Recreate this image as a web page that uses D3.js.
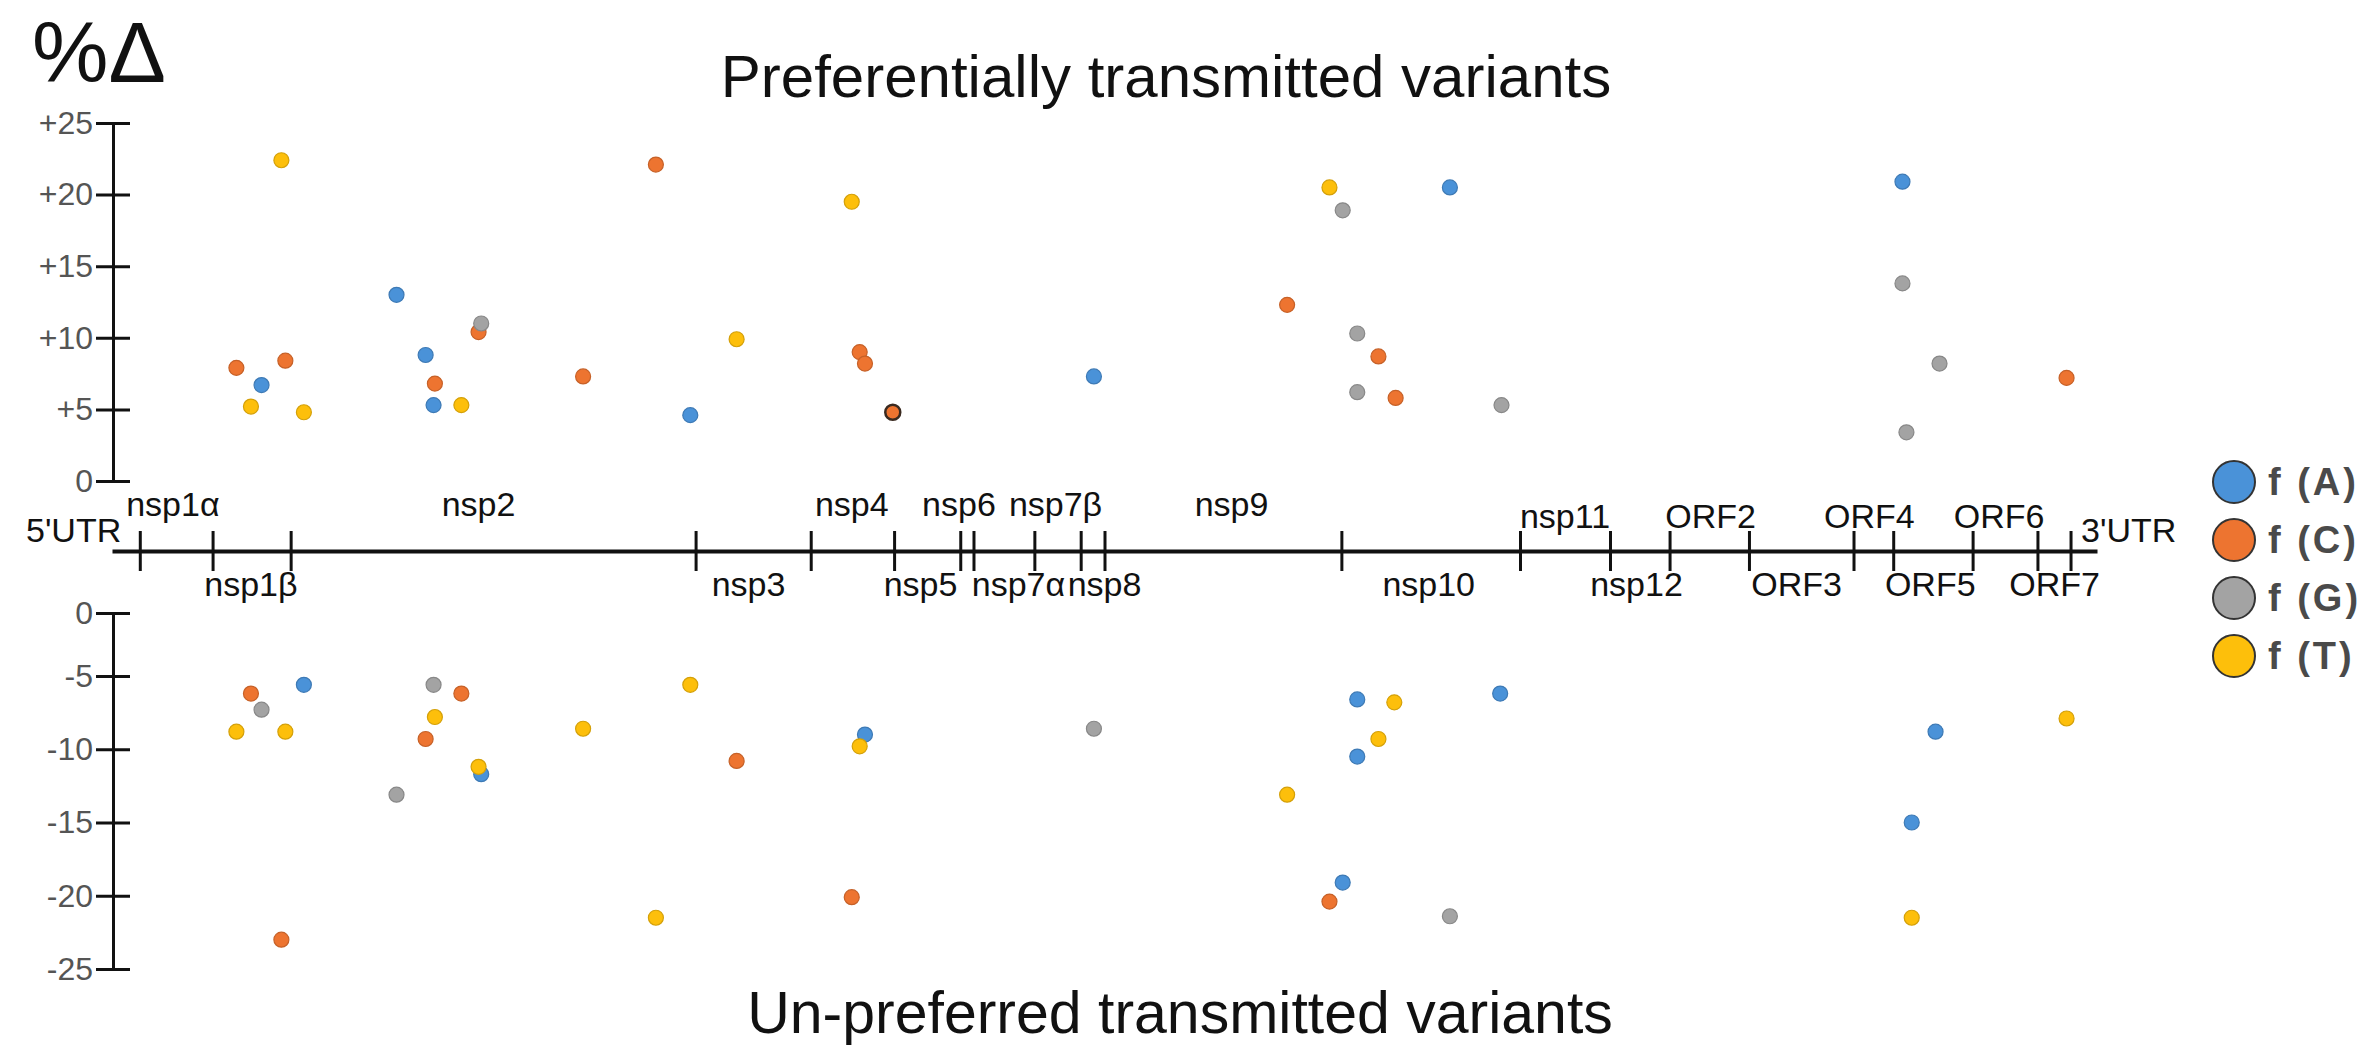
<!DOCTYPE html>
<html lang="en">
    <head>
        <meta charset="utf-8">
        <title>Preferentially transmitted variants</title>
        <script src="https://cdnjs.cloudflare.com/ajax/libs/d3/7.8.5/d3.min.js" charset="utf-8"></script>
        <style>
        body {
          margin: 0;
          background: #fff;
          font-family: 'Liberation Sans', Arial, sans-serif;
        }
        svg {
          display: block;
        }
        </style>
    </head>
    <body>
        <svg></svg>
        <script type="text/javascript">
            // genome map: segment names, their boundaries and where each name sits (genome units)
            var segments = ["5'UTR", "nsp1α", "nsp1β", "nsp2", "nsp3", "nsp4", "nsp5", "nsp6",
                            "nsp7α", "nsp7β", "nsp8", "nsp9", "nsp10", "nsp11", "nsp12",
                            "ORF2", "ORF3", "ORF4", "ORF5", "ORF6", "ORF7", "3'UTR"];
            var boundaries = [0, 0.21, 0.76, 1.35, 4.41, 5.28, 5.91, 6.41, 6.51, 6.97, 7.32, 7.50,
                              9.29, 10.64, 11.32, 11.77, 12.37, 13.16, 13.46, 14.06, 14.55, 14.80, 15];
            var labelAt = [0.07, 0.46, 1.05, 2.77, 4.81, 5.59, 6.11, 6.40, 6.85, 7.13, 7.50, 8.46,
                           9.95, 10.98, 11.52, 12.08, 12.73, 13.28, 13.74, 14.26, 14.68, 14.88];

            // tick values of the two %Δ axes
            var prefTicks = [0, 5, 10, 15, 20, 25];
            var unprefTicks = [0, -5, -10, -15, -20, -25];

            // [genome position, %Δ] for each base, preferentially transmitted
            var prefA = [[1.13, 6.7], [2.15, 13.0], [2.37, 8.8], [2.43, 5.3], [4.37, 4.6],
                         [7.42, 7.3], [10.11, 20.5], [13.53, 20.9]];
            var prefC = [[0.94, 7.9], [1.31, 8.4], [2.44, 6.8], [2.77, 10.4], [3.56, 7.3],
                         [4.11, 22.1], [5.65, 9.0], [5.69, 8.2], [5.90, 4.8], [8.88, 12.3],
                         [9.57, 8.7], [9.70, 5.8], [14.77, 7.2]];
            var prefG = [[2.79, 11.0], [9.30, 18.9], [9.41, 10.3], [9.41, 6.2], [10.50, 5.3],
                         [13.53, 13.8], [13.81, 8.2], [13.56, 3.4]];
            var prefT = [[1.28, 22.4], [1.05, 5.2], [1.45, 4.8], [2.64, 5.3], [4.72, 9.9],
                         [5.59, 19.5], [9.20, 20.5]];

            // un-preferred transmitted
            var unprefA = [[1.45, -5.6], [2.79, -11.7], [5.69, -9.0], [9.41, -6.6], [9.41, -10.5],
                           [9.30, -19.1], [10.49, -6.2], [13.78, -8.8], [13.60, -15.0]];
            var unprefC = [[1.05, -6.2], [1.28, -23.0], [2.64, -6.2], [2.37, -9.3], [4.72, -10.8],
                           [5.59, -20.1], [9.20, -20.4]];
            var unprefG = [[1.13, -7.3], [2.43, -5.6], [2.15, -13.1], [7.42, -8.6], [10.11, -21.4]];
            var unprefT = [[0.94, -8.8], [1.31, -8.8], [2.44, -7.8], [2.77, -11.2], [3.56, -8.6],
                           [4.37, -5.6], [4.11, -21.5], [5.65, -9.8], [9.69, -6.8], [9.57, -9.3],
                           [8.88, -13.1], [14.77, -7.9], [13.60, -21.5]];

            var bases = ["A", "C", "G", "T"];
            var colors = ["#4a92d8", "#ed7430", "#a3a3a3", "#fdbf0b"];

            var width = 2372;
            var height = 1047;
            var font = "'Liberation Sans', Arial, sans-serif";

            var svg = d3.select("svg")
                .attr("width", width)
                .attr("height", height);

            var xScale = d3.scaleLinear()
                .domain([0, 15])
                .range([112, 2097]);

            var yPref = d3.scaleLinear()
                .domain([0, 25])
                .range([481, 123]);

            // the drawn axis has a shorter first step, so it is a piecewise scale
            var yUnpref = d3.scaleLinear()
                .domain([0, -5, -25])
                .range([613, 676, 969]);

            var colorScale = d3.scaleOrdinal()
                .domain(bases)
                .range(colors);

            var axisX = 113;

            function drawYAxis(scale, ticks, fmt) {
                var g = svg.append("g")
                    .attr("transform", "translate(" + axisX + ",0)")
                    .call(d3.axisLeft(scale)
                        .tickValues(ticks)
                        .tickFormat(fmt)
                        .tickSize(17)
                        .tickSizeOuter(0)
                        .tickPadding(3));
                g.select(".domain").attr("stroke", "#111").attr("stroke-width", 3);
                // ticks cross the axis
                g.selectAll(".tick line")
                    .attr("x1", 17)
                    .attr("stroke", "#111")
                    .attr("stroke-width", 3);
                g.selectAll(".tick text")
                    .attr("font-family", font)
                    .attr("font-size", 32)
                    .attr("fill", "#555");
            }

            drawYAxis(yPref, prefTicks, d => d === 0 ? "0" : "+" + d);
            drawYAxis(yUnpref, unprefTicks, d => d === 0 ? "0" : "-" + Math.abs(d));

            // genome line with segment boundaries
            var lineY = 551;
            var genome = svg.append("g")
                .attr("transform", "translate(0," + lineY + ")")
                .call(d3.axisBottom(xScale)
                    .tickValues(boundaries.slice(1, -1))
                    .tickFormat("")
                    .tickSize(20)
                    .tickSizeOuter(0));
            genome.select(".domain").attr("stroke", "#111").attr("stroke-width", 4);
            genome.selectAll(".tick line")
                .attr("y1", -20)
                .attr("stroke", "#111")
                .attr("stroke-width", 3);

            // segment names, alternating above and below the line
            var last = segments.length - 1;
            svg.append("g")
                .selectAll("text")
                .data(segments)
                .enter()
                .append("text")
                  .attr("x", (d, i) => xScale(labelAt[i]))
                  .attr("y", function(d, i) {
                      if (i === 0 || i === last) return 542;
                      if (i % 2 === 1) return i > 12 ? 528 : 516;
                      return 596;
                  })
                  .attr("text-anchor", function(d, i) {
                      if (i === 0) return "end";
                      if (i === last) return "start";
                      return "middle";
                  })
                  .attr("font-family", font)
                  .attr("font-size", 34)
                  .attr("fill", "#111")
                  .text(d => d);

            // points
            function drawPoints(sets, yScale) {
                sets.forEach(function(set, k) {
                    var c = colorScale(bases[k]);
                    svg.append("g")
                        .selectAll("circle")
                        .data(set)
                        .enter()
                        .append("circle")
                          .attr("cx", d => xScale(d[0]))
                          .attr("cy", d => yScale(d[1]))
                          .attr("r", 7.5)
                          .attr("fill", c)
                          .attr("stroke", d3.color(c).darker(0.5))
                          .attr("stroke-width", 1.2);
                });
            }

            drawPoints([prefA, prefC, prefG, prefT], yPref);
            drawPoints([unprefA, unprefC, unprefG, unprefT], yUnpref);

            // the one outlined orange point near nsp5
            svg.selectAll("circle")
                .filter(d => d && d[0] === 5.90 && d[1] === 4.8)
                .attr("stroke", "#3a2a20")
                .attr("stroke-width", 2.5);

            // titles
            svg.append("text")
                .attr("x", 32)
                .attr("y", 82)
                .attr("font-family", font)
                .attr("font-size", 86)
                .attr("fill", "#111")
                .text("%Δ");

            svg.append("text")
                .attr("x", 1166)
                .attr("y", 97)
                .attr("text-anchor", "middle")
                .attr("font-family", font)
                .attr("font-size", 60)
                .attr("fill", "#111")
                .text("Preferentially transmitted variants");

            svg.append("text")
                .attr("x", 1180)
                .attr("y", 1033)
                .attr("text-anchor", "middle")
                .attr("font-family", font)
                .attr("font-size", 59)
                .attr("fill", "#111")
                .text("Un-preferred transmitted variants");

            // legend
            var legend = svg.append("g")
                .selectAll("g")
                .data(bases)
                .enter()
                .append("g")
                  .attr("transform", (d, i) => "translate(2234," + (482 + i * 58) + ")");

            legend.append("circle")
                .attr("r", 21)
                .attr("fill", d => colorScale(d))
                .attr("stroke", "#333")
                .attr("stroke-width", 2);

            legend.append("text")
                .attr("x", 34)
                .attr("y", 13)
                .attr("font-family", font)
                .attr("font-size", 38)
                .attr("font-weight", "bold")
                .attr("letter-spacing", 3)
                .attr("fill", "#4a4a4a")
                .text(d => "f (" + d + ")");
        </script>
    </body>
</html>
